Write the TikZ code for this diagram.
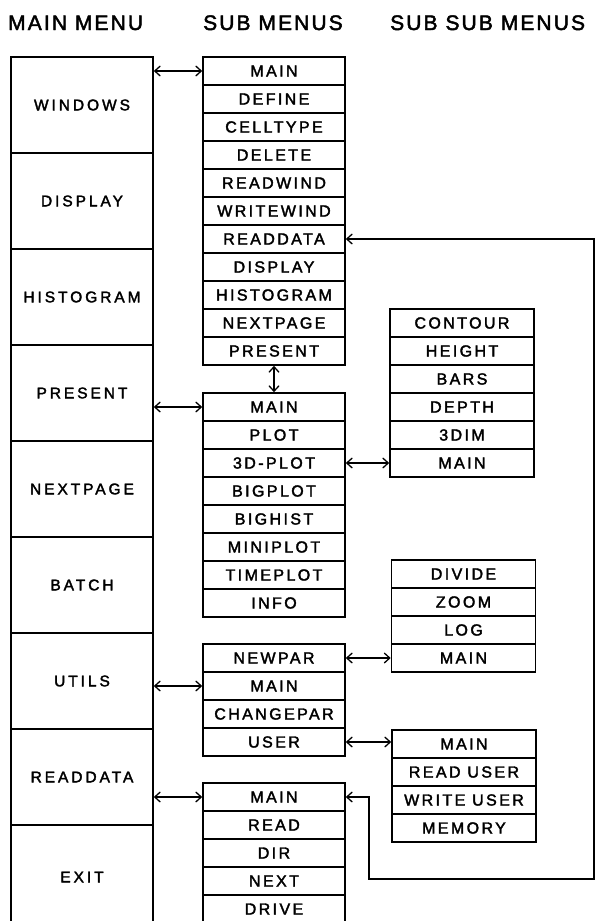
\documentclass[tikz,border=0pt]{standalone}
\usepackage{fontspec}
\setmainfont{Liberation Sans}
\newfontfamily\hdfont{Liberation Sans}[LetterSpace=10,FakeBold=2.2]
\newfontfamily\mfont{Liberation Sans}[LetterSpace=19,FakeBold=2.2]
\newfontfamily\sfont{Liberation Sans}[LetterSpace=15,FakeBold=2.2]
\usetikzlibrary{arrows.meta}
\tikzset{
  mainbox/.style={draw, line width=1.6pt, minimum width=142pt, minimum height=96pt, inner sep=0pt, font=\mfont\fontsize{15.5}{18}\selectfont},
  subbox/.style={draw, line width=1.6pt, minimum width=142pt, minimum height=28pt, inner sep=0pt, font=\sfont\fontsize{16}{19}\selectfont},
  ssbox/.style={subbox, minimum width=144pt},
  hdr/.style={anchor=base west, inner sep=0pt, font=\hdfont\fontsize{21}{24}\selectfont},
  link/.style={line width=1.3pt, {Straight Barb[length=5.5pt,width=10pt]}-{Straight Barb[length=5.5pt,width=10pt]}},
}
\begin{document}
\begin{tikzpicture}[x=1pt,y=-1pt]
\useasboundingbox (0,0) rectangle (602,921);
% headers
\node[hdr] (h1) at (8,30) {MAIN MENU};
\node[hdr] (h2) at (203,30) {SUB MENUS};
\node[hdr] (h3) at (390,30) {SUB SUB MENUS};
% main menu
\foreach \t [count=\i] in {WINDOWS,DISPLAY,HISTOGRAM,PRESENT,NEXTPAGE,BATCH,UTILS,READDATA}
  \node[mainbox] (m\i) at ({82},{105+96*(\i-1)}) {\t};
\node[mainbox, minimum height=104pt] (m9) at (82,877) {EXIT};
% sub menus
\foreach \t [count=\i] in {MAIN,DEFINE,CELLTYPE,DELETE,READWIND,WRITEWIND,READDATA,DISPLAY,HISTOGRAM,NEXTPAGE,PRESENT}
  \node[subbox] (a\i) at ({274},{71+28*(\i-1)}) {\t};
\foreach \t [count=\i] in {MAIN,PLOT,3D-PLOT,BIGPLOT,BIGHIST,MINIPLOT,TIMEPLOT,INFO}
  \node[subbox] (b\i) at ({274},{407+28*(\i-1)}) {\t};
\foreach \t [count=\i] in {NEWPAR,MAIN,CHANGEPAR,USER}
  \node[subbox] (c\i) at ({274},{658+28*(\i-1)}) {\t};
\foreach \t [count=\i] in {MAIN,READ,DIR,NEXT,DRIVE}
  \node[subbox] (d\i) at ({274},{797+28*(\i-1)}) {\t};
% sub sub menus
\foreach \t [count=\i] in {CONTOUR,HEIGHT,BARS,DEPTH,3DIM,MAIN}
  \node[ssbox] (p\i) at ({462},{323+28*(\i-1)}) {\t};
\foreach \t [count=\i] in {DIVIDE,ZOOM,LOG,MAIN}
  \node[ssbox] (q\i) at ({463.5},{574+28*(\i-1)}) {\t};
\foreach \t [count=\i] in {MAIN,{READ USER},{WRITE USER},MEMORY}
  \node[ssbox] (r\i) at ({464},{744+28*(\i-1)}) {\t};
% connectors
\draw[link] (m1.east |- a1.west) -- (a1.west);
\draw[link] (a11.south) -- (b1.north);
\draw[link] (m4.east |- b1.west) -- (b1.west);
\draw[link] (b3.east) -- (p6.west |- b3.east);
\draw[link] (c1.east) -- (q4.west |- c1.east);
\draw[link] (m7.east |- c2.west) -- (c2.west);
\draw[link] (c4.east) -- (r1.west |- c4.east);
\draw[link] (m8.east |- d1.west) -- (d1.west);
\coordinate (k1) at (369,879);
\coordinate (k2) at (594,879);
\draw[link] (d1.east) -| (k1) -- (k2) |- (a7.east);
\end{tikzpicture}
\end{document}
